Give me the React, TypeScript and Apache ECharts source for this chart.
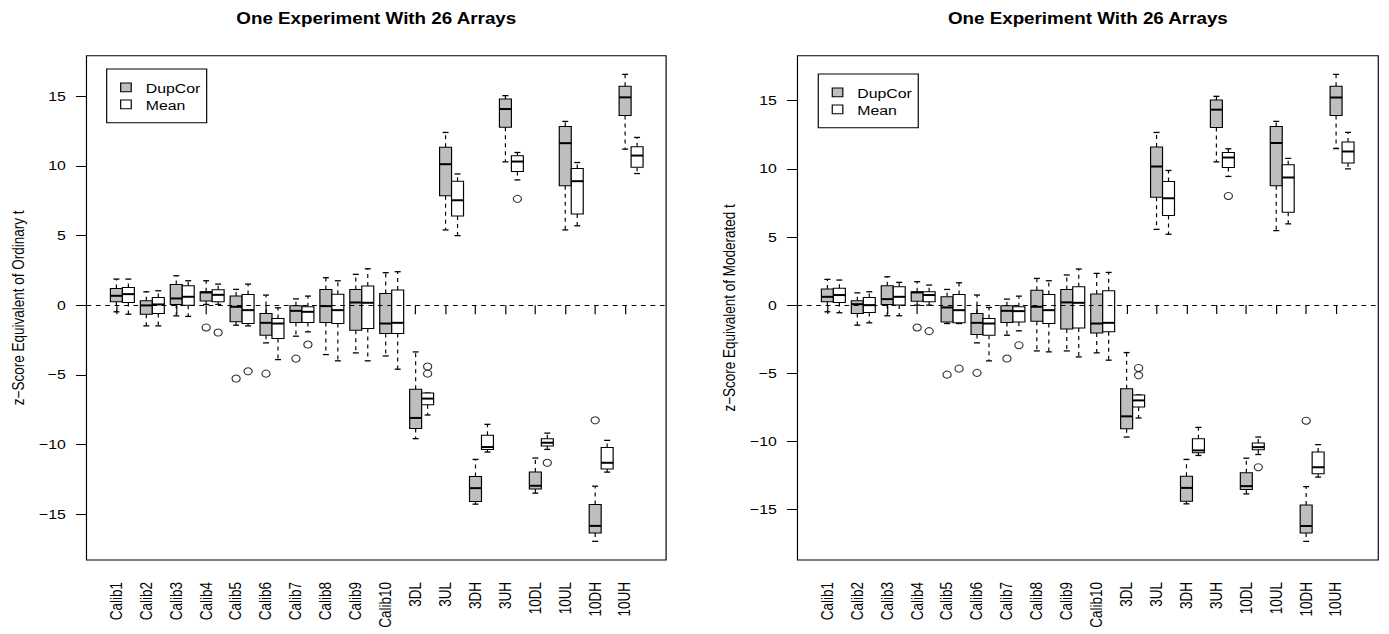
import React, { useEffect, useRef } from "react";
import * as echarts from "echarts";

// ---------- data ----------
const categories = [
  "Calib1", "Calib2", "Calib3", "Calib4", "Calib5", "Calib6", "Calib7", "Calib8", "Calib9", "Calib10",
  "3DL", "3UL", "3DH", "3UH", "10DL", "10UL", "10DH", "10UH",
];
const yTicks = [-15, -10, -5, 0, 5, 10, 15];
const seriesNames = ["DupCor", "Mean"];
const panelTitles = ["One Experiment With 26 Arrays", "One Experiment With 26 Arrays"];
const yNames = ["z\u2212Score Equivalent of Ordinary t", "z\u2212Score Equivalent of Moderated t"];

// [lower whisker, Q1, median, Q3, upper whisker]
const ordDupCor = [
  [-0.48, 0.24, 0.67, 1.2, 1.87], [-1.49, -0.65, -0.02, 0.31, 0.96], [-0.77, 0.05, 0.48, 1.49, 2.11],
  [0.05, 0.29, 0.91, 0.96, 1.75], [-1.44, -1.2, -0.12, 0.65, 1.13], [-2.71, -2.16, -1.27, -0.6, 0.72],
  [-2.23, -1.25, -0.41, -0.05, 0.45], [-3.55, -1.25, -0.07, 1.13, 1.97], [-3.43, -1.8, 0.19, 1.13, 2.21],
  [-3.65, -2.04, -1.32, 0.84, 2.33], [-9.59, -8.85, -8.1, -6.04, -3.36], [5.4, 7.86, 10.12, 11.34, 12.4],
  [-14.29, -14.1, -13.14, -12.3, -11.08], [10.29, 12.78, 14.08, 14.8, 15.04], [-13.5, -13.21, -12.97, -11.99, -10.98],
  [5.4, 8.58, 11.63, 12.83, 13.19], [-16.96, -16.36, -15.85, -14.32, -13.0], [11.2, 13.62, 14.92, 15.71, 16.57],
];
const ordMean = [
  [-0.65, 0.19, 0.79, 1.27, 1.87], [-1.49, -0.6, 0.05, 0.55, 1.03], [-0.81, 0.0, 0.6, 1.39, 1.75],
  [0.05, 0.24, 0.74, 1.1, 1.51], [-1.49, -1.32, -0.36, 0.77, 1.51], [-3.91, -2.4, -1.32, -0.96, -0.19],
  [-1.92, -1.25, -0.48, -0.12, 0.65], [-4.0, -1.32, -0.36, 0.79, 1.75], [-4.0, -1.68, 0.17, 1.37, 2.61],
  [-4.6, -2.04, -1.27, 1.08, 2.4], [-7.89, -7.15, -6.71, -6.31, -6.31], [4.99, 6.4, 7.53, 8.9, 9.42],
  [-10.55, -10.36, -10.19, -9.35, -8.56], [8.99, 9.59, 10.31, 10.72, 10.96], [-10.36, -10.12, -9.88, -9.59, -9.19],
  [5.7, 6.55, 8.9, 9.81, 10.24], [-11.99, -11.77, -11.32, -10.22, -9.71], [9.45, 9.9, 10.74, 11.37, 12.04],
];
const modDupCor = [
  [-0.49, 0.24, 0.61, 1.18, 1.89], [-1.47, -0.61, 0.07, 0.32, 0.9], [-0.78, 0.05, 0.44, 1.42, 2.08],
  [0.0, 0.29, 0.93, 0.98, 1.72], [-1.35, -1.23, -0.17, 0.61, 1.15], [-2.77, -2.16, -1.3, -0.61, 0.74],
  [-2.21, -1.27, -0.42, -0.05, 0.44], [-3.36, -1.18, -0.12, 1.1, 1.96], [-3.36, -1.76, 0.2, 1.15, 2.21],
  [-3.5, -2.04, -1.35, 0.81, 2.33], [-9.68, -9.07, -8.16, -6.13, -3.48], [5.56, 7.92, 10.17, 11.6, 12.67],
  [-14.58, -14.39, -13.41, -12.55, -11.32], [10.51, 13.04, 14.34, 15.05, 15.32], [-13.85, -13.53, -13.28, -12.3, -11.23],
  [5.47, 8.75, 11.89, 13.11, 13.48], [-17.33, -16.72, -16.2, -14.66, -13.31], [11.49, 13.92, 15.24, 16.05, 16.93],
];
const modMean = [
  [-0.56, 0.2, 0.74, 1.23, 1.84], [-1.3, -0.54, 0.0, 0.56, 0.98], [-0.78, 0.0, 0.61, 1.35, 1.67],
  [0.0, 0.24, 0.74, 0.98, 1.47], [-1.35, -1.3, -0.37, 0.78, 1.64], [-4.09, -2.21, -1.35, -0.98, -0.17],
  [-1.89, -1.23, -0.44, -0.12, 0.66], [-3.43, -1.35, -0.37, 0.78, 1.79], [-3.8, -1.67, 0.17, 1.35, 2.65],
  [-4.04, -1.96, -1.3, 1.05, 2.4], [-8.28, -7.48, -6.99, -6.59, -6.59], [5.2, 6.57, 7.84, 9.07, 9.88],
  [-11.03, -10.83, -10.66, -9.8, -8.97], [9.44, 10.1, 10.83, 11.2, 11.47], [-10.96, -10.61, -10.42, -10.12, -9.68],
  [5.96, 6.81, 9.36, 10.29, 10.76], [-12.62, -12.38, -11.89, -10.78, -10.24], [10.0, 10.42, 11.27, 11.96, 12.67],
];

// outliers: [category index, value]
const ordDupCorOut = [[3, -1.6], [4, -5.27], [5, -4.92], [6, -3.84], [16, -8.27]];
const ordMeanOut = [[3, -1.97], [4, -4.75], [6, -2.83], [10, -4.41], [10, -4.92], [13, 7.63], [14, -11.32]];
const modDupCorOut = [[3, -1.64], [4, -5.1], [5, -4.97], [6, -3.92], [16, -8.48]];
const modMeanOut = [[3, -1.91], [4, -4.66], [6, -2.94], [10, -4.61], [10, -5.15], [13, 8.01], [14, -11.89]];

// ---------- layout / style ----------
const S = 1.175; // horizontal stretch of the reference
const W = 1389 / S;
const H = 634;
const FONT = "'Liberation Sans', Arial, Helvetica, sans-serif";
const FS = 13.5;
const GRAY = "#bebebe";
const panels = [
  { left: 73.6, top: 55.7, width: 493.3, height: 504.3, xMax: 19.37, yMin: -18.3, yMax: 17.91, legend: [90.8, 69] },
  { left: 678.7, top: 55.7, width: 494.3, height: 504.3, xMax: 19.41, yMin: -18.7, yMax: 18.3, legend: [696.4, 74] },
];
const BOX_HALF = 0.2;
const MEAN_OFFSET = 0.4;

const fmtNum = (v: number) => (v < 0 ? "\u2212" + Math.abs(v) : String(v));

function boxSeries(name: string, boxes: number[][], offset: number, fill: string, idx: number) {
  return {
    type: "custom",
    name,
    xAxisIndex: idx,
    yAxisIndex: idx,
    data: boxes.map((b, i) => [i + 1 + offset, ...b]),
    encode: { x: 0, y: [1, 2, 3, 4, 5] },
    renderItem: (_params: any, api: any) => {
      const x = api.value(0);
      const lo = api.value(1), q1 = api.value(2), med = api.value(3), q3 = api.value(4), hi = api.value(5);
      const [xl, yq3] = api.coord([x - BOX_HALF, q3]);
      const [xr, yq1] = api.coord([x + BOX_HALF, q1]);
      const [xc, ym] = api.coord([x, med]);
      const yLo = api.coord([x, lo])[1];
      const yHi = api.coord([x, hi])[1];
      const xsl = api.coord([x - BOX_HALF / 2, 0])[0];
      const xsr = api.coord([x + BOX_HALF / 2, 0])[0];
      const dashed = { stroke: "#000", lineWidth: 1, lineDash: [4, 4] };
      const solid = { stroke: "#000", lineWidth: 1.3 };
      return {
        type: "group",
        children: [
          { type: "line", shape: { x1: xc, y1: yq3, x2: xc, y2: yHi }, style: dashed },
          { type: "line", shape: { x1: xc, y1: yq1, x2: xc, y2: yLo }, style: dashed },
          { type: "line", shape: { x1: xsl, y1: yHi, x2: xsr, y2: yHi }, style: solid },
          { type: "line", shape: { x1: xsl, y1: yLo, x2: xsr, y2: yLo }, style: solid },
          {
            type: "rect",
            shape: { x: xl, y: yq3, width: xr - xl, height: Math.max(yq1 - yq3, 0.5) },
            style: { fill, stroke: "#000", lineWidth: 1 },
          },
          { type: "line", shape: { x1: xl, y1: ym, x2: xr, y2: ym }, style: { stroke: "#000", lineWidth: 2 } },
        ],
      };
    },
  };
}

function outlierSeries(name: string, pts: number[][], offset: number, idx: number, withZero: boolean) {
  const s: any = {
    type: "scatter",
    name,
    xAxisIndex: idx,
    yAxisIndex: idx,
    symbol: "circle",
    symbolSize: 7,
    itemStyle: { color: "transparent", borderColor: "#000", borderWidth: 1 },
    data: pts.map(([c, v]) => [c + 1 + offset, v]),
  };
  if (withZero) {
    s.markLine = {
      silent: true,
      symbol: ["none", "none"],
      label: { show: false },
      lineStyle: { type: [4, 4], color: "#000", width: 1 },
      data: [{ yAxis: 0 }],
    };
  }
  return s;
}

export default function App() {
  const ref = useRef<HTMLDivElement>(null);
  useEffect(() => {
    if (!ref.current) return;
    const chart = echarts.init(ref.current, null, { renderer: "svg" });
    const positions = categories.map((_, i) => i + 1);
    const data = [
      [ordDupCor, ordMean, ordDupCorOut, ordMeanOut],
      [modDupCor, modMean, modDupCorOut, modMeanOut],
    ];

    const graphic: any[] = [];
    panels.forEach((p) => {
      const [lx, ly] = p.legend;
      graphic.push(
        { type: "rect", z: 100, shape: { x: lx, y: ly, width: 85.1, height: 53.7 }, style: { fill: "none", stroke: "#000", lineWidth: 1 } },
        { type: "rect", z: 100, shape: { x: lx + 11.9, y: ly + 14, width: 9, height: 8.7 }, style: { fill: GRAY, stroke: "#000", lineWidth: 1 } },
        { type: "rect", z: 100, shape: { x: lx + 11.9, y: ly + 31, width: 9, height: 8.7 }, style: { fill: "#fff", stroke: "#000", lineWidth: 1 } },
        { type: "text", z: 100, x: lx + 33.2, y: ly + 19.3, style: { text: seriesNames[0], fontSize: FS, fontFamily: FONT, fill: "#000", verticalAlign: "middle", align: "left" } },
        { type: "text", z: 100, x: lx + 33.2, y: ly + 36.7, style: { text: seriesNames[1], fontSize: FS, fontFamily: FONT, fill: "#000", verticalAlign: "middle", align: "left" } }
      );
    });

    const option: any = {
      animation: false,
      backgroundColor: "#fff",
      textStyle: { fontFamily: FONT, color: "#000" },
      title: panels.map((p, i) => ({
        text: panelTitles[i],
        left: p.left + p.width / 2,
        top: 10,
        textAlign: "center",
        padding: 0,
        textStyle: { fontSize: 16, fontWeight: "bold", color: "#000", fontFamily: FONT },
      })),
      grid: panels.map((p) => ({
        left: p.left, top: p.top, width: p.width, height: p.height,
        show: true, borderColor: "#000", borderWidth: 1, backgroundColor: "transparent",
      })),
      xAxis: panels.map((p, i) => ({
        type: "value",
        gridIndex: i,
        min: 0,
        max: p.xMax,
        axisLine: { show: false },
        splitLine: { show: false },
        axisTick: { show: true, length: 9, customValues: positions, lineStyle: { color: "#000", width: 1 } },
        axisLabel: {
          customValues: positions,
          rotate: 90,
          margin: 22,
          fontSize: FS,
          color: "#000",
          fontFamily: FONT,
          formatter: (v: number) => categories[Math.round(v) - 1] ?? "",
        },
      })),
      yAxis: panels.map((p, i) => ({
        type: "value",
        gridIndex: i,
        min: p.yMin,
        max: p.yMax,
        name: yNames[i],
        nameLocation: "middle",
        nameGap: 51,
        nameTextStyle: { fontSize: FS, color: "#000", fontFamily: FONT },
        axisLine: { show: false },
        splitLine: { show: false },
        axisTick: { show: true, length: 9, customValues: yTicks, lineStyle: { color: "#000", width: 1 } },
        axisLabel: { customValues: yTicks, margin: 17.5, fontSize: FS, color: "#000", fontFamily: FONT, formatter: fmtNum },
      })),
      series: data.flatMap(([dup, mean, dupOut, meanOut], i) => [
        boxSeries(seriesNames[0], dup as number[][], 0, GRAY, i),
        boxSeries(seriesNames[1], mean as number[][], MEAN_OFFSET, "#fff", i),
        outlierSeries(seriesNames[0] + " outliers", dupOut as number[][], 0, i, true),
        outlierSeries(seriesNames[1] + " outliers", meanOut as number[][], MEAN_OFFSET, i, false),
      ]),
      graphic,
    };
    chart.setOption(option);
    return () => chart.dispose();
  }, []);

  return (
    <div
      ref={ref}
      style={{
        position: "absolute",
        left: 0,
        top: 0,
        width: W + "px",
        height: H + "px",
        transform: `scaleX(${S})`,
        transformOrigin: "0 0",
      }}
    />
  );
}
